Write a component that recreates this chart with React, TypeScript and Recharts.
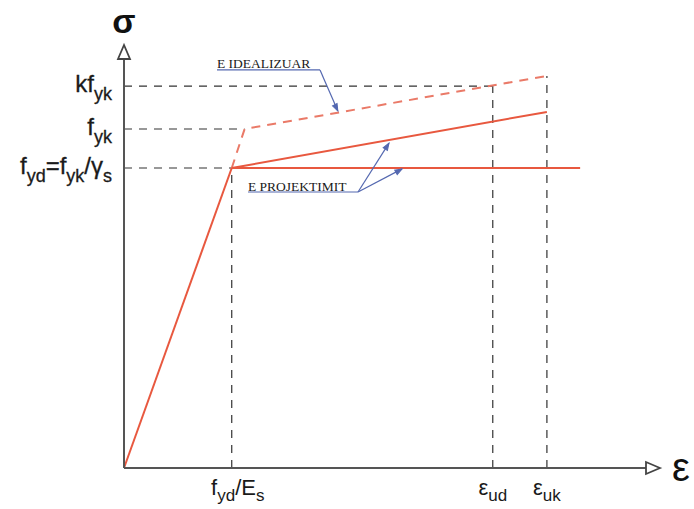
import React from 'react'
import { LineChart, Line, XAxis, YAxis, ReferenceLine, ReferenceDot } from 'recharts'

// strain positions (arbitrary units) and stress levels (relative to fyd)
const EPS_YD = 2.01
const EPS_UD = 6.88
const EPS_UK = 7.89
const EPS_MAX = 10
const EPS_HORIZ_END = 8.51

const FYD = 1.0
const FYK = 1.13
const KFYK = 1.273
const SIG_MAX = 1.41

const designElastic = [{ x: 0, y: 0 }, { x: EPS_YD, y: FYD }]
const designInclined = [{ x: EPS_YD, y: FYD }, { x: EPS_UK, y: 1.187 }]
const designFlat = [{ x: EPS_YD, y: FYD }, { x: EPS_HORIZ_END, y: FYD }]
const idealized = [{ x: EPS_YD, y: FYD }, { x: 2.25, y: FYK }, { x: EPS_UK, y: 1.307 }]

const xTicks = [EPS_YD, EPS_UD, EPS_UK]
const yTicks = [FYD, FYK, KFYK]

// guide lines [x1, y1, x2, y2]
const guides = [
  [0, FYD, EPS_YD, FYD],
  [0, FYK, 2.25, FYK],
  [0, KFYK, EPS_UD, KFYK],
  [EPS_YD, 0, EPS_YD, FYD],
  [EPS_UD, 0, EPS_UD, KFYK],
  [EPS_UK, 0, EPS_UK, 1.307],
]

// annotation leader lines
const idealLeader = [[1.735, 1.327], [3.657, 1.327], [3.99, 1.19]]
const projLeader = [[2.313, 0.92], [4.366, 0.92]]
const projArrows = [[4.944, 1.083], [5.187, 0.997]]

const RED = '#e8583f'
const RED_DASH = '#ea7a68'
const BLUE = '#5468b0'
const SANS = '"Liberation Sans", Arial, sans-serif'
const SERIF = '"Liberation Serif", "Times New Roman", serif'

const YTick = (props: any) => {
  const { y, payload } = props
  const v = payload.value
  const x = 112
  const sub = { fontSize: 18, dy: 8 }
  let content: any = null
  if (v === KFYK) content = <>kf<tspan {...sub}>yk</tspan></>
  else if (v === FYK) content = <>f<tspan {...sub}>yk</tspan></>
  else content = (
    <>f<tspan {...sub}>yd</tspan><tspan dy={-8}>=f</tspan><tspan {...sub}>yk</tspan><tspan dy={-8}>/γ</tspan><tspan {...sub}>s</tspan></>
  )
  return <text x={x} y={y + 6} textAnchor="end" fontSize={24} fontFamily={SANS} fill="#1a1a1a" stroke="#1a1a1a" strokeWidth={0.3}>{content}</text>
}

const XTick = (props: any) => {
  const { x, payload } = props
  const v = payload.value
  const sub = { fontSize: 17, dy: 6 }
  let content: any = null
  let dx = 0
  if (v === EPS_YD) { content = <>f<tspan {...sub}>yd</tspan><tspan dy={-6}>/E</tspan><tspan {...sub}>s</tspan></>; dx = 6 }
  else if (v === EPS_UD) content = <>ε<tspan {...sub}>ud</tspan></>
  else content = <>ε<tspan {...sub}>uk</tspan></>
  return <text x={x + dx} y={495} textAnchor="middle" fontSize={22} fontFamily={SANS} fill="#1a1a1a">{content}</text>
}

const arrowHead = (angle: number, fill: string, open = false) => (p: any) => {
  const { cx, cy } = p
  const pts = open ? '0,0 -14,-6 -14,6' : '0,0 -7,-2.5 -7,2.5'
  return (
    <polygon points={pts} transform={`translate(${cx},${cy}) rotate(${angle})`}
      fill={open ? '#fff' : fill} stroke={fill} strokeWidth={open ? 1.8 : 1} />
  )
}

const textShape = (txt: string, opts: any) => (p: any) => (
  <text x={p.cx} y={p.cy} {...opts}>{txt}</text>
)

export default function App() {
  return (
    <div style={{ position: 'absolute', left: 0, top: 0, background: '#fff' }}>
      <LineChart width={694} height={509} margin={{ top: 45, right: 34, bottom: 0, left: 0 }}>
        <XAxis type="number" dataKey="x" domain={[0, EPS_MAX]} ticks={xTicks} tick={<XTick />}
          tickLine={false} axisLine={{ stroke: '#555', strokeWidth: 2 }} height={41} interval={0} />
        <YAxis type="number" dataKey="y" domain={[0, SIG_MAX]} ticks={yTicks} tick={<YTick />}
          tickLine={false} axisLine={{ stroke: '#555', strokeWidth: 2 }} width={124} interval={0} />

        {guides.map((g, i) => (
          <ReferenceLine key={`g-${i}`} segment={[{ x: g[0], y: g[1] }, { x: g[2], y: g[3] }]}
            stroke="#333" strokeWidth={1.2} strokeDasharray="8 7" ifOverflow="visible" />
        ))}

        <Line data={idealized} dataKey="y" stroke={RED_DASH} strokeWidth={2} strokeDasharray="9 7" dot={false} isAnimationActive={false} />
        <Line data={designElastic} dataKey="y" stroke={RED} strokeWidth={2} dot={false} isAnimationActive={false} />
        <Line data={designInclined} dataKey="y" stroke={RED} strokeWidth={2} dot={false} isAnimationActive={false} />
        <Line data={designFlat} dataKey="y" stroke={RED} strokeWidth={2} dot={false} isAnimationActive={false} />

        {/* leader lines */}
        <ReferenceLine segment={[{ x: idealLeader[0][0], y: idealLeader[0][1] }, { x: idealLeader[1][0], y: idealLeader[1][1] }]} stroke={BLUE} strokeWidth={1.2} ifOverflow="visible" />
        <ReferenceLine segment={[{ x: idealLeader[1][0], y: idealLeader[1][1] }, { x: idealLeader[2][0], y: idealLeader[2][1] }]} stroke={BLUE} strokeWidth={1.2} ifOverflow="visible" />
        <ReferenceDot x={idealLeader[2][0]} y={idealLeader[2][1]} r={0} shape={arrowHead(64, BLUE)} ifOverflow="visible" />
        <ReferenceLine segment={[{ x: projLeader[0][0], y: projLeader[0][1] }, { x: projLeader[1][0], y: projLeader[1][1] }]} stroke={BLUE} strokeWidth={1.2} ifOverflow="visible" />
        {projArrows.map((a, i) => (
          <ReferenceLine key={`pa-${i}`} segment={[{ x: projLeader[1][0], y: projLeader[1][1] }, { x: a[0], y: a[1] }]} stroke={BLUE} strokeWidth={1.2} ifOverflow="visible" />
        ))}
        <ReferenceDot x={projArrows[0][0]} y={projArrows[0][1]} r={0} shape={arrowHead(-58, BLUE)} ifOverflow="visible" />
        <ReferenceDot x={projArrows[1][0]} y={projArrows[1][1]} r={0} shape={arrowHead(-30, BLUE)} ifOverflow="visible" />

        <ReferenceDot x={idealLeader[0][0]} y={idealLeader[0][1]} r={0} ifOverflow="visible"
          shape={textShape('E IDEALIZUAR', { dy: -2, fontSize: 13.5, fontFamily: SERIF, fill: '#1a1a1a' })} />
        <ReferenceDot x={projLeader[0][0]} y={projLeader[0][1]} r={0} ifOverflow="visible"
          shape={textShape('E PROJEKTIMIT', { dy: -1, fontSize: 13.5, fontFamily: SERIF, fill: '#1a1a1a' })} />

        {/* axis arrows and symbols */}
        <ReferenceDot x={EPS_MAX} y={0} r={0} shape={arrowHead(0, '#444', true)} ifOverflow="visible" />
        <ReferenceDot x={0} y={SIG_MAX} r={0} shape={arrowHead(-90, '#444', true)} ifOverflow="visible" />
        <ReferenceDot x={0} y={SIG_MAX} r={0} ifOverflow="visible"
          shape={textShape('σ', { dy: -12, textAnchor: 'middle', fontSize: 34, fontWeight: 'bold', fontFamily: SANS, fill: '#111' })} />
        <ReferenceDot x={EPS_MAX} y={0} r={0} ifOverflow="visible"
          shape={textShape('ε', { dx: 12, dy: 13, fontSize: 40, fontFamily: SANS, fill: '#111' })} />
      </LineChart>
    </div>
  )
}
